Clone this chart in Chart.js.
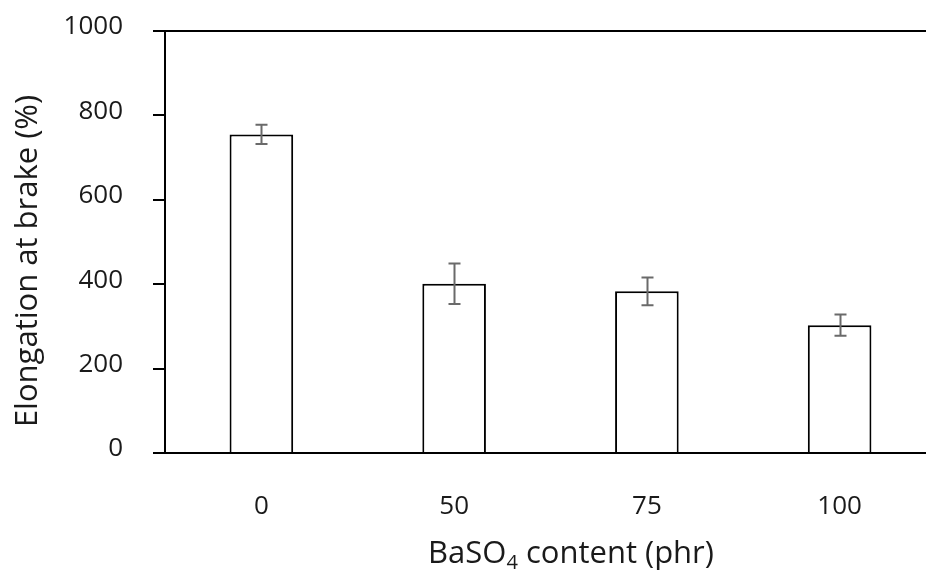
<!DOCTYPE html>
<html>
<head>
<meta charset="utf-8">
<script src="https://cdn.jsdelivr.net/npm/chart.js@4.4.1/dist/chart.umd.min.js"></script>
<style>
html,body{margin:0;padding:0;background:#fff;overflow:hidden;}
#wrap{width:936px;height:572px;}
</style>
</head>
<body>
<div id="wrap"><canvas id="c" width="936" height="572"></canvas></div>
<script>
const categories = ["0", "50", "75", "100"];
const elongation = [755, 401, 383, 303];
const elongationError = [23, 48, 33, 25];
const yTicks = [0, 200, 400, 600, 800, 1000];
const xTitleMain = "BaSO";
const xTitleSub = "4";
const xTitleRest = " content (phr)";
const yTitle = "Elongation at brake (%)";

const FONT = "'Open Sans', 'Noto Sans', sans-serif";
const TXT = "#1a1a1a";

const errorBars = {
  id: 'errorBars',
  afterDatasetsDraw(chart) {
    const ctx = chart.ctx;
    const meta = chart.getDatasetMeta(0);
    const y = chart.scales.y;
    ctx.save();
    ctx.strokeStyle = '#6a6a6a';
    ctx.lineWidth = 2;
    meta.data.forEach((bar, i) => {
      const v = elongation[i], e = elongationError[i];
      const x = Math.round(bar.x) + 0.5;
      const yt = y.getPixelForValue(v + e);
      const yb = y.getPixelForValue(v - e);
      ctx.beginPath();
      ctx.moveTo(x, yt); ctx.lineTo(x, yb);
      ctx.moveTo(x - 6, yt); ctx.lineTo(x + 6, yt);
      ctx.moveTo(x - 6, yb); ctx.lineTo(x + 6, yb);
      ctx.stroke();
    });
    ctx.restore();
  }
};

const titles = {
  id: 'titles',
  afterDraw(chart) {
    const ctx = chart.ctx;
    ctx.save();
    ctx.fillStyle = TXT;
    ctx.font = "31px " + FONT;
    ctx.textBaseline = 'middle';
    ctx.textAlign = 'center';
    ctx.translate(28, 261);
    ctx.rotate(-Math.PI / 2);
    ctx.fillText(yTitle, 0, 0);
    ctx.restore();

    ctx.save();
    ctx.fillStyle = TXT;
    ctx.textBaseline = 'alphabetic';
    ctx.textAlign = 'left';
    const big = "31px " + FONT, small = "20px " + FONT;
    ctx.font = big; const w1 = ctx.measureText(xTitleMain).width; const w3 = ctx.measureText(xTitleRest).width;
    ctx.font = small; const w2 = ctx.measureText(xTitleSub).width;
    let x = 571 - (w1 + w2 + w3) / 2;
    const base = 563;
    ctx.font = big; ctx.fillText(xTitleMain, x, base); x += w1;
    ctx.font = small; ctx.fillText(xTitleSub, x, base + 6); x += w2;
    ctx.font = big; ctx.fillText(xTitleRest, x, base);
    ctx.restore();
  }
};

new Chart(document.getElementById('c'), {
  type: 'bar',
  data: {
    labels: categories,
    datasets: [{
      data: elongation,
      backgroundColor: '#ffffff',
      borderColor: '#000000',
      borderWidth: 2,
      barPercentage: 0.33,
      categoryPercentage: 1.0
    }]
  },
  options: {
    responsive: false,
    animation: false,
    devicePixelRatio: 1,
    layout: { padding: { top: 31, right: 0, bottom: 0, left: 0 } },
    plugins: { legend: { display: false }, tooltip: { enabled: false }, title: { display: false } },
    scales: {
      x: {
        type: 'category',
        offset: true,
        grid: { display: false, drawTicks: false },
        border: { display: true, color: '#000', width: 2 },
        ticks: { color: TXT, font: { family: FONT, size: 26 }, padding: 38 },
        afterFit(s) { s.height = 119; s.paddingLeft = 0; s.paddingRight = 0; }
      },
      y: {
        min: 0, max: 1000,
        afterBuildTicks(s) { s.ticks = yTicks.map(v => ({ value: v })); },
        grid: {
          color: c => (c.tick && c.tick.value === 1000) ? '#000' : 'rgba(0,0,0,0)',
          tickColor: '#000',
          lineWidth: 2,
          tickLength: 12,
          drawTicks: true
        },
        border: { display: true, color: '#000', width: 2 },
        ticks: { color: TXT, font: { family: FONT, size: 26 }, padding: 30, labelOffset: -4, callback: v => String(v) },
        afterFit(s) { s.width = 165; s.paddingTop = 0; s.paddingBottom = 0; }
      }
    }
  },
  plugins: [errorBars, titles]
});
</script>
</body>
</html>
